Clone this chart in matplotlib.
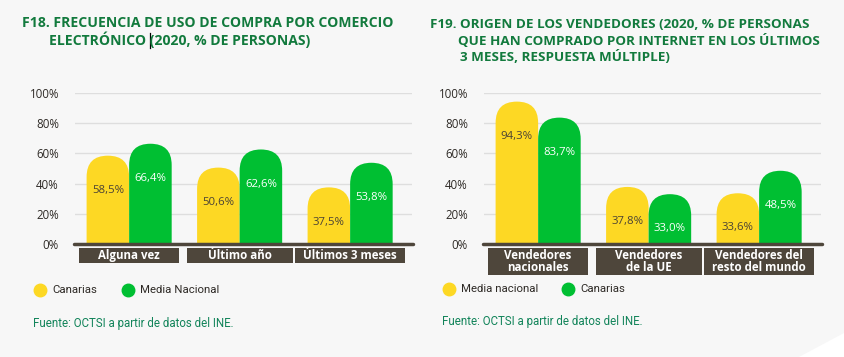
import matplotlib
matplotlib.use('Agg')
import matplotlib.pyplot as plt
from matplotlib.patches import FancyBboxPatch, Rectangle, Polygon
from matplotlib.lines import Line2D

# Figure geometry (pixels)
W, H = 844, 357
BG = '#f7f7f7'
YELLOW = '#fdd824'
GREEN = '#00bf32'
BROWN = '#4e463b'
TITLE_GREEN = '#127a3d'
SOURCE_GREEN = '#12845a'
TEXT_DARK = '#2e2a26'

# F18 data
cats_18 = ['Alguna vez', 'Último año', 'Últimos 3 meses']
canarias_18 = [58.5, 50.6, 37.5]
media_18 = [66.4, 62.6, 53.8]

# F19 data
cats_19 = ['Vendedores\nnacionales', 'Vendedores\nde la UE', 'Vendedores del\nresto del mundo']
media_19 = [94.3, 37.8, 33.6]
canarias_19 = [83.7, 33.0, 48.5]

yticks = [0, 20, 40, 60, 80, 100]

# layout constants
XLIM = (-0.49, 2.56)
BAR_W = 0.385
BOX_HALF = [0.45, 0.48, 0.50]
AX_W_PX = 337
AX_H_PX = 151


def fmt(v):
    return f'{v:.1f}%'.replace('.', ',')


def rounded_bar(ax, x, w, val, color):
    # rounded top: bottom corners sit below 0 and get clipped
    x_per_px = (XLIM[1] - XLIM[0]) / AX_W_PX
    y_per_px = 100 / AX_H_PX
    asp = y_per_px / x_per_px
    p = FancyBboxPatch((x - w / 2, -30), w, val + 30,
                       boxstyle=f'round,pad=0,rounding_size={w / 2}',
                       mutation_aspect=asp, fc=color, ec='none', zorder=2)
    ax.add_patch(p)


def draw_chart(fig, left_px, cats, s1, s2, c1, c2, box_bottom):
    ax = fig.add_axes([left_px / W, (H - 244) / H, AX_W_PX / W, AX_H_PX / H])
    ax.set_facecolor('none')
    ax.set_xlim(*XLIM)
    ax.set_ylim(0, 100)
    for s in ax.spines.values():
        s.set_visible(False)
    ax.set_xticks([])
    ax.set_yticks(yticks)
    ax.set_yticklabels([f'{t}%' for t in yticks], fontsize=8.3, color=TEXT_DARK,
                       family='Open Sans')
    ax.tick_params(axis='y', length=0, pad=11.5)
    for t in yticks[1:]:
        ax.axhline(t, color='#dedede', lw=1, zorder=1)

    for i, (a, b) in enumerate(zip(s1, s2)):
        xa = i - BAR_W / 2
        xb = i + BAR_W / 2
        rounded_bar(ax, xa, BAR_W, a, c1)
        rounded_bar(ax, xb, BAR_W, b, c2)
        ax.text(xa, a - 23, fmt(a), ha='center', va='center', fontsize=8.2,
                color='#4a4235' if c1 == YELLOW else 'white', family='Open Sans', zorder=3)
        ax.text(xb, b - 23, fmt(b), ha='center', va='center', fontsize=8.2,
                color='#4a4235' if c2 == YELLOW else 'white', family='Open Sans', zorder=3)

        # category label box
        hw = BOX_HALF[i]
        ax.add_patch(Rectangle((i - hw, box_bottom), 2 * hw, -2.6 - box_bottom,
                               fc=BROWN, ec='none', clip_on=False, zorder=2))
        ax.text(i, (box_bottom - 2.6) / 2, cats[i], ha='center', va='center',
                fontsize=8.3, fontweight='bold', color='white', family='Open Sans',
                linespacing=0.95, clip_on=False, zorder=3)

    ax.plot([XLIM[0] - 0.01, XLIM[1] + 0.01], [0, 0], color=BROWN, lw=2.5,
            solid_capstyle='round', clip_on=False, zorder=4)
    return ax


fig = plt.figure(figsize=(W / 100, H / 100), dpi=100)
fig.patch.set_facecolor(BG)

# light corner shape bottom right
fig.add_artist(Polygon([(1, 0), (1, 24 / H), (799 / W, 0)], closed=True,
                       transform=fig.transFigure, fc='white', ec='none'))

draw_chart(fig, 75, cats_18, canarias_18, media_18, YELLOW, GREEN, -12.6)
draw_chart(fig, 484, cats_19, media_19, canarias_19, YELLOW, GREEN, -20.5)

# titles
tkw = dict(fontweight='bold', color=TITLE_GREEN, family='Open Sans',
           va='center', ha='left')
fig.text(22 / W, 1 - 23 / H, 'F18. FRECUENCIA DE USO DE COMPRA POR COMERCIO', fontsize=10.1, **tkw)
fig.text(49 / W, 1 - 40 / H, 'ELECTRÓNICO (2020, % DE PERSONAS)', fontsize=10.1, **tkw)
fig.text(430 / W, 1 - 24 / H, 'F19. ORIGEN DE LOS VENDEDORES (2020, % DE PERSONAS', fontsize=9.7, **tkw)
fig.text(458 / W, 1 - 41 / H, 'QUE HAN COMPRADO POR INTERNET EN LOS ÚLTIMOS', fontsize=9.7, **tkw)
fig.text(460 / W, 1 - 57 / H, '3 MESES, RESPUESTA MÚLTIPLE)', fontsize=9.7, **tkw)
# text cursor mark seen in the source image
fig.add_artist(Line2D([149.5 / W, 149.5 / W], [1 - 33 / H, 1 - 48 / H], color='black',
                      lw=0.9, transform=fig.transFigure))


# legends
def legend_item(x, y, color, label):
    fig.add_artist(Line2D([x / W], [1 - y / H], marker='o', ms=9, color=color,
                          ls='none', transform=fig.transFigure))
    fig.text((x + 12) / W, 1 - y / H, label, fontsize=8.2, color=TEXT_DARK,
             family='Roboto', va='center', ha='left')


legend_item(40, 290, YELLOW, 'Canarias')
legend_item(128, 290, GREEN, 'Media Nacional')
legend_item(449, 289, YELLOW, 'Media nacional')
legend_item(568, 289, GREEN, 'Canarias')

# sources
skw = dict(fontsize=8.3, color=SOURCE_GREEN, family='Roboto', va='center', ha='left')
fig.text(33 / W, 1 - 324 / H, 'Fuente: OCTSI a partir de datos del INE.', **skw)
fig.text(442 / W, 1 - 322 / H, 'Fuente: OCTSI a partir de datos del INE.', **skw)

fig.savefig('out.png', dpi=100, facecolor=BG)
